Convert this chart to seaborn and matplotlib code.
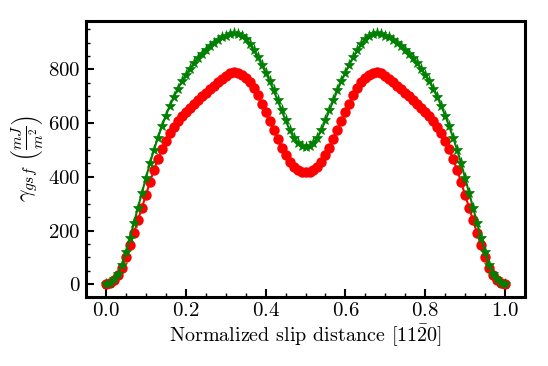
import matplotlib
matplotlib.use("Agg")
import matplotlib.pyplot as plt
from matplotlib.ticker import MultipleLocator
import numpy as np
import pandas as pd
import seaborn as sns

# slip positions along [11-20], normalized
slip = [round(0.01 * i, 2) for i in range(101)]

# red circles
gsf_red = [0, 5, 15, 35, 62, 100, 145, 190, 238, 285,
           332, 380, 425, 465, 502, 535, 563, 587, 608, 626,
           643, 658, 672, 686, 700, 713, 726, 739, 752, 764,
           776, 785, 790, 788, 780, 768, 752, 730, 703, 672,
           640, 607, 573, 540, 508, 480, 456, 437, 425, 419,
           417,
           419, 425, 437, 456, 480, 508, 540, 573, 607, 640,
           672, 703, 730, 752, 768, 780, 788, 790, 785, 776,
           764, 752, 739, 726, 713, 700, 686, 672, 658, 643,
           626, 608, 587, 563, 535, 502, 465, 425, 380, 332,
           285, 238, 190, 145, 100, 62, 35, 15, 5, 0]

# green stars
gsf_green = [0, 5, 18, 40, 72, 120, 172, 228, 285, 340,
             395, 450, 500, 545, 588, 628, 665, 698, 728, 755,
             780, 802, 823, 842, 859, 874, 888, 900, 910, 919,
             926, 931, 934, 933, 926, 913, 895, 872, 846, 818,
             788, 757, 722, 685, 648, 610, 575, 546, 526, 515,
             512,
             515, 526, 546, 575, 610, 648, 685, 722, 757, 788,
             818, 846, 872, 895, 913, 926, 933, 934, 931, 926,
             919, 910, 900, 888, 874, 859, 842, 823, 802, 780,
             755, 728, 698, 665, 628, 588, 545, 500, 450, 395,
             340, 285, 228, 172, 120, 72, 40, 18, 5, 0]

sns.set_style('ticks')
plt.rcParams['font.family'] = 'serif'
plt.rcParams['font.serif'] = ['cmr10', 'DejaVu Serif']
plt.rcParams['mathtext.fontset'] = 'cm'
plt.rcParams['axes.formatter.use_mathtext'] = True
plt.rcParams['text.color'] = 'black'
plt.rcParams['axes.labelcolor'] = 'black'
plt.rcParams['axes.edgecolor'] = 'black'
plt.rcParams['xtick.color'] = 'black'
plt.rcParams['ytick.color'] = 'black'

df = pd.DataFrame({'slip': slip, 'red': gsf_red, 'green': gsf_green})

fig = plt.figure(figsize=(5.48, 3.66), dpi=100)
ax = fig.add_axes([0.157, 0.189, 0.801, 0.754])

sns.lineplot(data=df, x='slip', y='red', ax=ax, color='red', marker='o',
             markersize=7.5, markeredgewidth=0, linewidth=1.5)
sns.lineplot(data=df, x='slip', y='green', ax=ax, color='green', marker='*',
             markersize=8, markeredgewidth=0.5, markeredgecolor='green', linewidth=1.5)

ax.set_xlabel(r'Normalized slip distance [$11\bar{2}0$]', fontsize=14.5, labelpad=1)
ax.set_ylabel(r'$\gamma_{gsf}\ \left(\frac{mJ}{m^2}\right)$', fontsize=16, labelpad=2)

ax.xaxis.set_major_locator(MultipleLocator(0.2))
ax.xaxis.set_minor_locator(MultipleLocator(0.05))
ax.yaxis.set_major_locator(MultipleLocator(200))
ax.yaxis.set_minor_locator(MultipleLocator(50))
ax.tick_params(which='major', direction='in', length=6, width=1.5, labelsize=15, pad=4)
ax.tick_params(which='minor', direction='in', length=3, width=1)
for s in ax.spines.values():
    s.set_linewidth(2.2)
    s.set_color('black')
    s.set_visible(True)

plt.savefig('out.png', dpi=100)
